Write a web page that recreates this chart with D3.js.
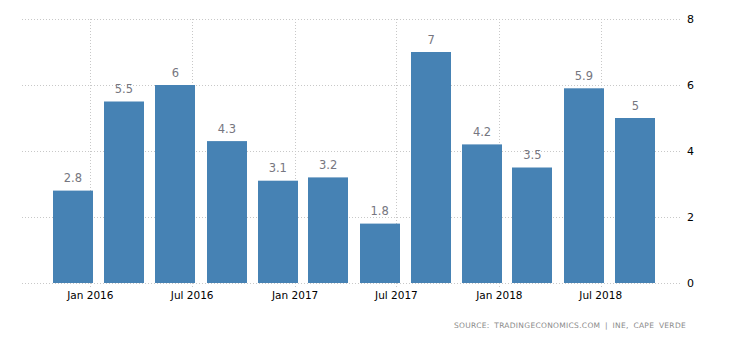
<!DOCTYPE html>
<html><head><meta charset="utf-8">
<script src="https://cdn.jsdelivr.net/npm/d3@7"></script>
<style>body{margin:0;background:#fff}svg{display:block}</style>
</head><body>
<svg id="c" width="730" height="340"></svg>
<script>
const dates = ["2015-12-01","2016-03-01","2016-06-01","2016-09-01","2016-12-01","2017-03-01","2017-06-01","2017-09-01","2017-12-01","2018-03-01","2018-06-01","2018-09-01"];
const values = [2.8,5.5,6,4.3,3.1,3.2,1.8,7,4.2,3.5,5.9,5];
const xTicks = ["2016-01-01","2016-07-01","2017-01-01","2017-07-01","2018-01-01","2018-07-01"];
const xTickLabels = ["Jan 2016","Jul 2016","Jan 2017","Jul 2017","Jan 2018","Jul 2018"];
const yTicks = [0,2,4,6,8];
const source = "SOURCE: TRADINGECONOMICS.COM | INE, CAPE VERDE";

(function () {
const parse = d3.utcParse("%Y-%m-%d");
const svg = d3.select("#c");
const pL = 22, pR = 682, pT = 19, pB = 283;
const x = d3.scaleUtc().domain([parse("2016-01-01"), parse("2018-07-01")]).range([90.3, 600.7]);
const y = d3.scaleLinear().domain([0, 8]).range([pB, pT]);
const barW = 40;

svg.append("g").selectAll("line").data(yTicks).join("line")
  .attr("x1", pL).attr("x2", pR)
  .attr("y1", d => Math.round(y(d)) + 0.5).attr("y2", d => Math.round(y(d)) + 0.5)
  .attr("stroke", "#c8c8c8").attr("stroke-width", 1).attr("stroke-dasharray", "1,2");

svg.append("g").selectAll("line").data(xTicks).join("line")
  .attr("x1", d => Math.round(x(parse(d))) + 0.5).attr("x2", d => Math.round(x(parse(d))) + 0.5)
  .attr("y1", pT).attr("y2", pB + 4)
  .attr("stroke", "#c8c8c8").attr("stroke-width", 1).attr("stroke-dasharray", "1,2");

svg.append("g").selectAll("rect").data(values).join("rect")
  .attr("x", (d, i) => Math.round(x(parse(dates[i])) - barW / 2))
  .attr("width", barW)
  .attr("y", d => y(d))
  .attr("height", d => y(0) - y(d))
  .attr("fill", "#4682b4");

svg.append("g").selectAll("text").data(values).join("text")
  .attr("x", (d, i) => x(parse(dates[i])))
  .attr("y", d => y(d) - 8.5)
  .attr("text-anchor", "middle")
  .attr("font-family", "DejaVu Sans, sans-serif")
  .attr("font-size", "11.5px")
  .attr("fill", "#767680")
  .text(d => d);

svg.append("g").selectAll("text").data(xTicks).join("text")
  .attr("x", d => x(parse(d)))
  .attr("y", 299)
  .attr("text-anchor", "middle")
  .attr("font-family", "DejaVu Sans, sans-serif")
  .attr("font-size", "10.5px")
  .attr("fill", "#000")
  .text((d, i) => xTickLabels[i]);

svg.append("g").selectAll("text").data(yTicks).join("text")
  .attr("x", 687)
  .attr("y", d => y(d) + 4)
  .attr("font-family", "DejaVu Sans, sans-serif")
  .attr("font-size", "11px")
  .attr("fill", "#000")
  .text(d => d);

svg.append("text")
  .attr("x", 686).attr("y", 328)
  .attr("text-anchor", "end")
  .attr("font-family", "DejaVu Sans, sans-serif")
  .attr("font-size", "7.5px")
  .attr("letter-spacing", "0.3px")
  .attr("word-spacing", "2px")
  .attr("fill", "#8a8a8a")
  .text(source);
})();
</script>
</body></html>
